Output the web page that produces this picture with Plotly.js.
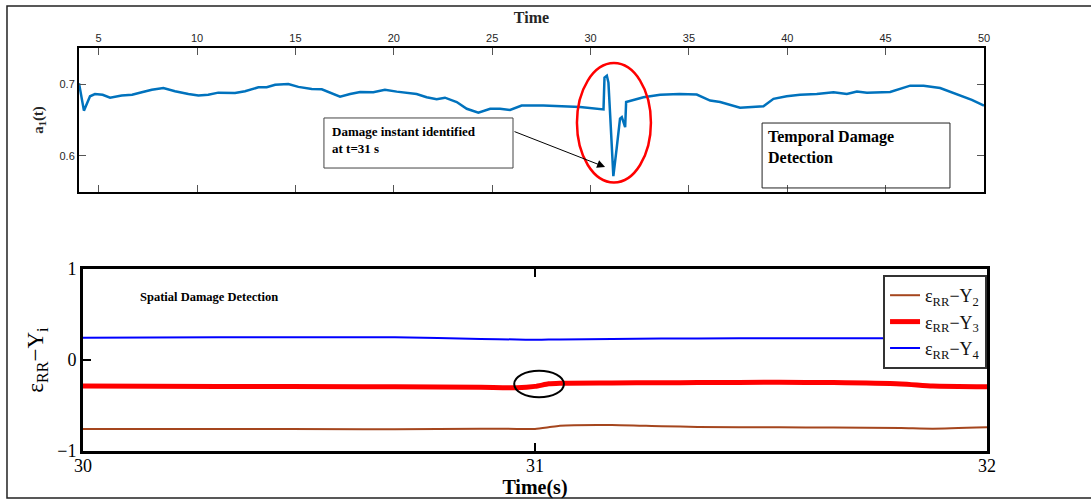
<!DOCTYPE html>
<html>
<head>
<meta charset="utf-8">
<script src="https://cdn.plot.ly/plotly-3.0.1.min.js"></script>
<style>html,body{margin:0;padding:0;background:#fff;}#chart{width:1091px;height:501px;}</style>
</head>
<body>
<div id="chart"></div>
<script>
// Top panel: a1(t) versus time
const topTime = [4.0, 4.25, 4.56, 4.81, 5.2, 5.58, 6.17, 6.7, 7.19, 7.7, 8.29, 8.88, 9.56, 10.07, 10.57, 11.08, 11.93, 12.44, 13.12, 13.54, 13.97, 14.64, 15.15, 15.83, 16.34, 16.85, 17.27, 17.78, 18.29, 18.96, 19.55, 20.15, 21.16, 21.67, 22.18, 22.6, 23.2, 23.71, 24.3, 24.9, 25.4, 25.91, 26.5, 27.6, 28.62, 29.47, 30.66, 30.71, 30.83, 30.91, 31.0, 31.16, 31.33, 31.5, 31.59, 31.76, 31.81, 32.69, 33.54, 34.52, 35.4, 36.08, 36.59, 37.6, 38.79, 39.3, 39.97, 40.65, 41.5, 42.35, 43.03, 43.54, 44.05, 45.23, 46.25, 46.93, 47.77, 48.62, 49.38, 50.0];
const topA1 = [0.701, 0.663, 0.683, 0.686, 0.685, 0.681, 0.684, 0.685, 0.6885, 0.692, 0.6945, 0.690, 0.686, 0.684, 0.685, 0.688, 0.6876, 0.690, 0.6954, 0.6954, 0.699, 0.700, 0.696, 0.693, 0.6927, 0.687, 0.6825, 0.686, 0.689, 0.6885, 0.692, 0.6894, 0.686, 0.6816, 0.679, 0.681, 0.675, 0.6656, 0.660, 0.6656, 0.6656, 0.664, 0.670, 0.670, 0.669, 0.668, 0.6647, 0.709, 0.7115, 0.702, 0.656, 0.572, 0.611, 0.652, 0.654, 0.640, 0.675, 0.6816, 0.685, 0.686, 0.6853, 0.677, 0.675, 0.667, 0.669, 0.6794, 0.683, 0.685, 0.686, 0.6885, 0.686, 0.6894, 0.688, 0.689, 0.6977, 0.6977, 0.6945, 0.686, 0.678, 0.670];
const topTicks = [5, 10, 15, 20, 25, 30, 35, 40, 45, 50];
const topYTicks = [0.6, 0.7];
const topYTickText = ['0.6', '0.7'];

// Bottom panel: spatial detection
const botTime = [30, 30.3, 30.62, 30.69, 30.88, 30.96, 31.0, 31.03, 31.055, 31.17, 31.28, 31.36, 31.54, 31.66, 31.81, 31.88, 32];
const seriesY2 = [-0.758, -0.757, -0.762, -0.760, -0.755, -0.757, -0.758, -0.74, -0.722, -0.714, -0.728, -0.735, -0.74, -0.742, -0.748, -0.755, -0.74];
const seriesY3 = [-0.286, -0.291, -0.294, -0.295, -0.300, -0.305, -0.29, -0.262, -0.255, -0.252, -0.250, -0.248, -0.245, -0.248, -0.263, -0.285, -0.293];
const seriesY4 = [0.245, 0.249, 0.25, 0.25, 0.232, 0.225, 0.222, 0.224, 0.226, 0.232, 0.235, 0.236, 0.24, 0.24, 0.238, 0.238, 0.24];
const seriesNames = ['ε<sub>RR</sub>−Y<sub>2</sub>', 'ε<sub>RR</sub>−Y<sub>3</sub>', 'ε<sub>RR</sub>−Y<sub>4</sub>'];
const botXTicks = [30, 31, 32];
const botYTicks = [-1, 0, 1];
const botYTickText = ['−1', '0', '1'];

const serif = 'Liberation Serif, Times New Roman, serif';
const sans = 'Liberation Sans, Arial, sans-serif';

const traces = [
  {x: topTime, y: topA1, xaxis: 'x', yaxis: 'y', mode: 'lines', showlegend: false,
   line: {color: 'rgb(0,114,189)', width: 2.5}},
  {x: botTime, y: seriesY2, xaxis: 'x2', yaxis: 'y2', mode: 'lines', name: seriesNames[0],
   line: {color: '#A5461E', width: 2, shape: 'spline', smoothing: 0.6}},
  {x: botTime, y: seriesY3, xaxis: 'x2', yaxis: 'y2', mode: 'lines', name: seriesNames[1],
   line: {color: '#FF0000', width: 5, shape: 'spline', smoothing: 0.6}},
  {x: botTime, y: seriesY4, xaxis: 'x2', yaxis: 'y2', mode: 'lines', name: seriesNames[2],
   line: {color: '#0000FF', width: 2, shape: 'spline', smoothing: 0.6}}
];

const layout = {
  width: 1091, height: 501,
  margin: {l: 79, r: 104, t: 48, b: 50},
  paper_bgcolor: 'white', plot_bgcolor: 'white',
  showlegend: true,
  legend: {x: 0.8855, y: 0.4367, xanchor: 'left', yanchor: 'top', bgcolor: 'white',
           bordercolor: '#333', borderwidth: 2, font: {family: serif, size: 18, color: '#111'},
           itemwidth: 30, tracegroupgap: 0},
  xaxis: {domain: [0, 0.9967], range: [4, 50], side: 'top', anchor: 'y', tickvals: topTicks,
          ticks: 'inside', ticklen: 7, tickcolor: '#555', showline: true, linecolor: 'black', linewidth: 2,
          mirror: 'allticks', showgrid: false, zeroline: false,
          tickfont: {family: sans, size: 11, color: '#262626'},
          title: {text: '<b>Time</b>', font: {family: serif, size: 16, color: '#262626'}, standoff: 4}},
  yaxis: {domain: [0.6427, 1], range: [0.55, 0.75], anchor: 'x', tickvals: topYTicks, ticktext: topYTickText,
          ticks: 'inside', ticklen: 7, tickcolor: '#555', showline: true, linecolor: 'black', linewidth: 2,
          mirror: 'allticks', showgrid: false, zeroline: false,
          tickfont: {family: sans, size: 11, color: '#262626'},
          title: {text: '<b>a<sub>1</sub>(t)</b>', font: {family: serif, size: 15, color: '#262626'}, standoff: 12}},
  xaxis2: {domain: [0.0044, 1], range: [30, 32], anchor: 'y2', tickvals: botXTicks,
           ticks: 'inside', ticklen: 8, tickwidth: 2, tickcolor: 'black', showline: true, linecolor: 'black', linewidth: 3,
           mirror: 'allticks', showgrid: false, zeroline: false, ticklabelstandoff: -4,
           tickfont: {family: serif, size: 18, color: 'black'},
           title: {text: '<b>Time(s)</b>', font: {family: serif, size: 20, color: 'black'}, standoff: 2}},
  yaxis2: {domain: [0, 0.4516], range: [-1, 1], anchor: 'x2', tickvals: botYTicks, ticktext: botYTickText,
           ticks: 'inside', ticklen: 8, tickwidth: 2, tickcolor: 'black', showline: true, linecolor: 'black', linewidth: 3,
           mirror: 'allticks', showgrid: false, zeroline: false,
           tickfont: {family: serif, size: 18, color: 'black'},
           title: {text: 'ε<sub>RR</sub>−Y<sub>i</sub>', font: {family: serif, size: 23, color: 'black'}, standoff: 8}},
  shapes: [
    {type: 'rect', xref: 'paper', yref: 'paper', x0: -0.0793, x1: 1.3, y0: -0.1166, y1: 1.1042,
     line: {color: '#222', width: 1.5}},
    {type: 'rect', xref: 'x', yref: 'y', x0: 16.45, x1: 26.06, y0: 0.5833, y1: 0.6528,
     line: {color: '#444', width: 1}},
    {type: 'rect', xref: 'x', yref: 'y', x0: 38.72, x1: 48.27, y0: 0.5556, y1: 0.6458,
     line: {color: '#222', width: 1}},
    {type: 'circle', xref: 'x', yref: 'y', x0: 29.31, x1: 33.07, y0: 0.5632, y1: 0.729,
     line: {color: '#FF0000', width: 2.5}},
    {type: 'circle', xref: 'x2', yref: 'y2', x0: 30.954, x1: 31.064, y0: -0.41, y1: -0.1176,
     line: {color: 'black', width: 2}}
  ],
  annotations: [
    {xref: 'x', yref: 'y', x: 16.76, y: 0.6472, xanchor: 'left', yanchor: 'top', align: 'left', showarrow: false,
     text: '<b>Damage instant identified<br>at t=31 s</b>', font: {family: serif, size: 13, color: 'black'}},
    {xref: 'x', yref: 'y', x: 38.92, y: 0.6417, xanchor: 'left', yanchor: 'top', align: 'left', showarrow: false,
     text: '<b>Temporal Damage<br>Detection</b>', font: {family: serif, size: 16, color: 'black'}},
    {xref: 'x2', yref: 'y2', x: 30.122, y: 0.692, xanchor: 'left', yanchor: 'middle', showarrow: false,
     text: '<b>Spatial Damage Detection</b>', font: {family: serif, size: 12.5, color: 'black'}},
    {xref: 'x', yref: 'y', x: 30.74, y: 0.5847, axref: 'x', ayref: 'y', ax: 26.06, ay: 0.6347, text: '',
     showarrow: true, arrowhead: 2, arrowsize: 1.6, arrowwidth: 1, arrowcolor: 'black'}
  ]
};

Plotly.newPlot('chart', traces, layout, {displayModeBar: false, staticPlot: true});
</script>
</body>
</html>
